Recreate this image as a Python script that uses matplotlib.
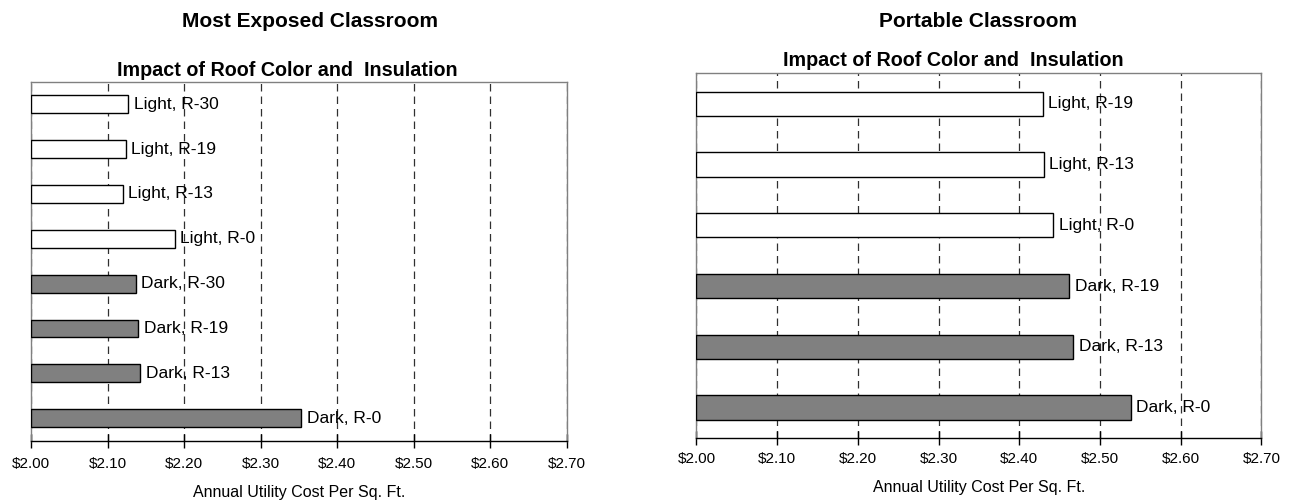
import matplotlib.pyplot as plt
from matplotlib.ticker import FuncFormatter, MultipleLocator

plt.rcParams['font.family'] = ['Liberation Sans', 'DejaVu Sans']

# annual utility cost per sq. ft., listed top to bottom
exposed_labels = ['Light, R-30', 'Light, R-19', 'Light, R-13', 'Light, R-0',
                  'Dark, R-30', 'Dark, R-19', 'Dark, R-13', 'Dark, R-0']
exposed_costs = [2.127, 2.124, 2.120, 2.188, 2.137, 2.140, 2.143, 2.353]

portable_labels = ['Light, R-19', 'Light, R-13', 'Light, R-0',
                   'Dark, R-19', 'Dark, R-13', 'Dark, R-0']
portable_costs = [2.429, 2.430, 2.442, 2.462, 2.467, 2.538]

x_min, x_max = 2.00, 2.70
subtitle = 'Impact of Roof Color and  Insulation'
xlabel = 'Annual Utility Cost Per Sq. Ft.'


def draw_panel(ax, labels, costs, tick_pad, label_pad):
    n = len(labels)
    ypos = list(range(n))
    colors = ['white' if lab.startswith('Light') else '#808080' for lab in labels]
    widths = [c - x_min for c in costs]
    ax.barh(ypos, widths, left=x_min, height=0.4, color=colors,
            edgecolor='black', linewidth=1.0, zorder=3)
    for y, c, lab in zip(ypos, costs, labels):
        ax.annotate(lab, (c, y), xytext=(4, 0), textcoords='offset points',
                    va='center', ha='left', fontsize=12.5, zorder=4)

    ax.set_xlim(x_min, x_max)
    ax.set_ylim(n - 0.5, -0.5)
    ax.set_yticks([])
    ax.xaxis.set_major_locator(MultipleLocator(0.1))
    ax.xaxis.set_major_formatter(FuncFormatter(lambda v, p: f'${v:.2f}'))
    ax.tick_params(axis='x', direction='inout', length=10, width=1,
                   labelsize=11, pad=tick_pad)
    ax.grid(axis='x', color='#303030', linestyle=(0, (6, 4)), linewidth=0.9,
            zorder=1)
    for side in ['top', 'left', 'right']:
        ax.spines[side].set_color('#808080')
        ax.spines[side].set_linewidth(1)
    ax.spines['bottom'].set_color('black')
    ax.spines['bottom'].set_linewidth(1)
    ax.set_xlabel(xlabel, fontsize=11.5, labelpad=label_pad)


fig = plt.figure(figsize=(12.89, 5), dpi=100)
ax1 = fig.add_axes([0.02405, 0.1186, 0.4156, 0.718])
ax2 = fig.add_axes([0.54034, 0.1240, 0.43825, 0.7294])

draw_panel(ax1, exposed_labels, exposed_costs, tick_pad=7, label_pad=10)
draw_panel(ax2, portable_labels, portable_costs, tick_pad=5, label_pad=10)

fig.text(0.1412, 0.9466, 'Most Exposed Classroom', fontsize=15,
         fontweight='bold', ha='left', va='baseline')
fig.text(0.0908, 0.848, subtitle, fontsize=14.2, fontweight='bold',
         ha='left', va='baseline')
fig.text(0.6819, 0.9466, 'Portable Classroom', fontsize=15,
         fontweight='bold', ha='left', va='baseline')
fig.text(0.6075, 0.868, subtitle, fontsize=14.2, fontweight='bold',
         ha='left', va='baseline')

fig.savefig('out.png', dpi=100)
